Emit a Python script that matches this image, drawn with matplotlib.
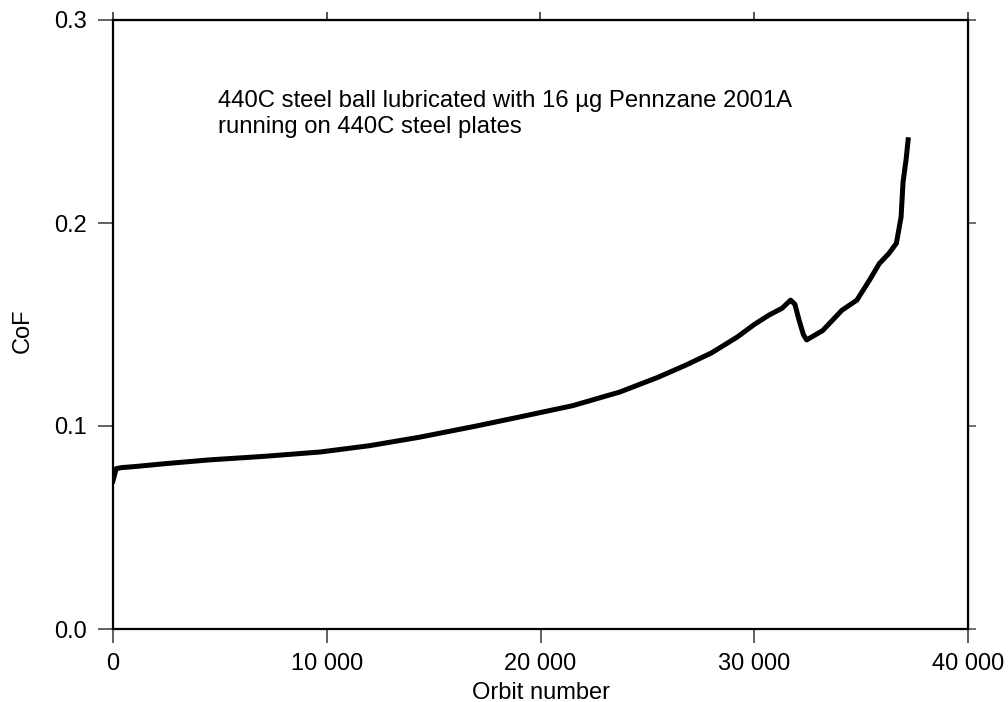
import matplotlib
matplotlib.use("Agg")
import matplotlib.pyplot as plt
from matplotlib.ticker import FuncFormatter

plt.rcParams['font.family'] = ['Liberation Sans', 'DejaVu Sans']

orbit = [0, 150, 400, 1000, 2500, 4500, 7000, 9700, 12000, 14350, 17000, 19000,
         21500, 23700, 25500, 26800, 28000, 29200, 30000, 30700, 31300, 31700,
         31900, 32100, 32300, 32450, 33200, 34100, 34800, 35400, 35850, 36300,
         36650, 36870, 36960, 37100, 37200]
cof = [0.073, 0.079, 0.0795, 0.080, 0.0815, 0.0833, 0.085, 0.0872, 0.0903, 0.0945,
       0.1000, 0.1044, 0.110, 0.1167, 0.124, 0.130, 0.136, 0.1438, 0.150, 0.1547,
       0.158, 0.162, 0.160, 0.152, 0.145, 0.1424, 0.147, 0.157, 0.162, 0.172,
       0.180, 0.185, 0.190, 0.203, 0.220, 0.231, 0.241]

xticks = [0, 10000, 20000, 30000, 40000]
yticks = [0.0, 0.1, 0.2, 0.3]
note_lines = ["440C steel ball lubricated with 16 µg Pennzane 2001A",
              "running on 440C steel plates"]

FS = 17
fig = plt.figure(figsize=(10.08, 7.02), dpi=100)
ax = fig.add_axes([113/1008, 1-629/702, (968-113)/1008, (629-20)/702])
ax.plot(orbit, cof, color='black', lw=3.6, solid_joinstyle='round')
ax.set_xlim(0, 40000)
ax.set_ylim(0, 0.3)
ax.set_xticks(xticks)
ax.set_yticks(yticks)
ax.xaxis.set_major_formatter(FuncFormatter(lambda v, p: f"{int(v):,}".replace(",", " ")))
ax.yaxis.set_major_formatter(FuncFormatter(lambda v, p: f"{v:.1f}"))
ax.tick_params(axis='x', direction='out', length=10, width=1.3, labelsize=FS,
               color='#555555', pad=7)
ax.tick_params(axis='y', direction='out', length=11, width=1.3, labelsize=FS,
               color='#555555', pad=8)
for s in ax.spines.values():
    s.set_linewidth(1.6)

sx = ax.secondary_xaxis('top')
sx.set_xticks(xticks)
sx.tick_params(direction='out', length=6, width=1.2, labeltop=False, color='#333333')
sy = ax.secondary_yaxis('right')
sy.set_yticks(yticks)
sy.tick_params(direction='out', length=6, width=1.2, labelright=False, color='#555555')

ax.set_xlabel("Orbit number", fontsize=FS)
ax.set_ylabel("CoF", fontsize=FS)
ax.xaxis.set_label_coords(0.5, (629 - 682) / 609)
ax.yaxis.set_label_coords((34 - 113) / 855, 0.5 - 6 / 609)
for i, line in enumerate(note_lines):
    ax.text(218/1008, 1-(107 + 26*i)/702, line, transform=fig.transFigure,
            fontsize=17.2, va='baseline', ha='left')

fig.savefig("out.png", dpi=100)
